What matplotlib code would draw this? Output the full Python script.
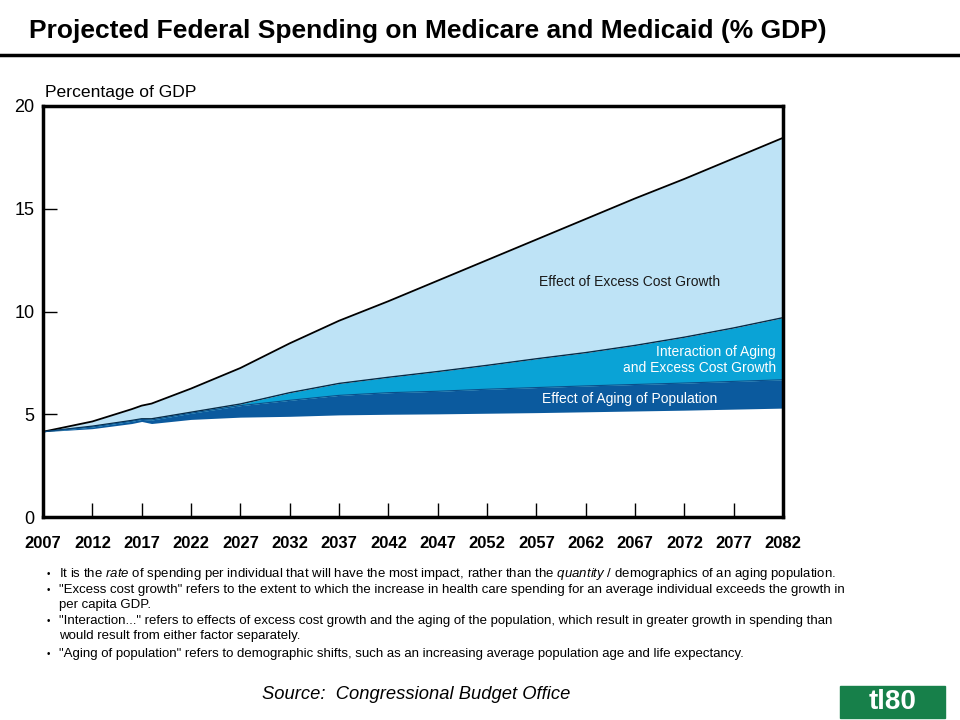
import matplotlib
matplotlib.use("Agg")
import matplotlib.pyplot as plt
from matplotlib.patches import Rectangle

years = [2007, 2012, 2016, 2017, 2018, 2022, 2027, 2032, 2037, 2042,
         2047, 2052, 2057, 2062, 2067, 2072, 2077, 2082]
# boundary levels (% of GDP)
base = [4.15, 4.30, 4.55, 4.65, 4.55, 4.75, 4.86, 4.90, 4.97, 5.00,
        5.02, 5.05, 5.08, 5.12, 5.16, 5.20, 5.25, 5.30]
aging = [4.15, 4.38, 4.66, 4.75, 4.72, 5.05, 5.42, 5.68, 5.92, 6.05,
         6.12, 6.22, 6.30, 6.38, 6.45, 6.52, 6.60, 6.68]
interaction = [4.15, 4.42, 4.70, 4.78, 4.78, 5.10, 5.50, 6.05, 6.50, 6.80,
               7.08, 7.38, 7.70, 8.00, 8.35, 8.75, 9.20, 9.70]
total = [4.15, 4.65, 5.25, 5.42, 5.52, 6.25, 7.25, 8.45, 9.55, 10.50,
         11.50, 12.50, 13.50, 14.50, 15.50, 16.45, 17.45, 18.45]

xticks = list(range(2007, 2083, 5))
yticks = [0, 5, 10, 15, 20]

notes = [
    ("\u2022", "It is the $\\it{rate}$ of spending per individual that will have the most impact, rather than the $\\it{quantity}$ / demographics of an aging population."),
    ("\u2022", "\"Excess cost growth\" refers to the extent to which the increase in health care spending for an average individual exceeds the growth in"),
    ("", "per capita GDP."),
    ("\u2022", "\"Interaction...\" refers to effects of excess cost growth and the aging of the population, which result in greater growth in spending than"),
    ("", "would result from either factor separately."),
    ("\u2022", "\"Aging of population\" refers to demographic shifts, such as an increasing average population age and life expectancy."),
]

plt.rcParams["font.family"] = ["Liberation Sans", "DejaVu Sans"]
plt.rcParams["mathtext.fontset"] = "custom"
plt.rcParams["mathtext.rm"] = "Liberation Sans"
plt.rcParams["mathtext.it"] = "Liberation Sans:italic"

fig = plt.figure(figsize=(9.6, 7.2), dpi=100)
fig.patch.set_facecolor("white")

fig.text(0.030, 0.957, "Projected Federal Spending on Medicare and Medicaid (% GDP)",
         fontsize=19, fontweight="bold", ha="left", va="center")
fig.add_artist(plt.Line2D([0, 1], [0.923, 0.923], color="black", lw=2.5))

ax = fig.add_axes([0.0448, 0.2819, 0.7708, 0.5709])
ax.fill_between(years, base, aging, color="#0b5a9e", lw=0)
ax.fill_between(years, aging, interaction, color="#0aa3d6", lw=0)
ax.fill_between(years, interaction, total, color="#bee3f6", lw=0)
ax.plot(years, total, color="black", lw=1.3)
ax.plot(years, interaction, color="#062a45", lw=1.0)
ax.plot(years, aging, color="#0a4f8a", lw=0.8)

ax.set_xlim(2007, 2082)
ax.set_ylim(0, 20)
ax.set_xticks(xticks)
ax.set_yticks(yticks)
ax.set_xticklabels([str(y) for y in xticks], fontsize=12, fontweight="bold")
ax.set_yticklabels([str(y) for y in yticks], fontsize=13)
ax.tick_params(axis="x", direction="in", length=10, width=1, pad=14)
ax.tick_params(axis="y", direction="in", length=10, width=1, pad=6)
for s in ax.spines.values():
    s.set_linewidth(2.5)

ax.text(0.003, 1.034, "Percentage of GDP", transform=ax.transAxes, fontsize=12.6,
        ha="left", va="center")

ax.text(2066.5, 11.44, "Effect of Excess Cost Growth",
        fontsize=10, ha="center", va="center", color="#1a1a1a")
ax.text(2081.3, 7.64, "Interaction of Aging\nand Excess Cost Growth",
        fontsize=10, ha="right", va="center", color="white", linespacing=1.15)
ax.text(2066.5, 5.74, "Effect of Aging of Population",
        fontsize=10, ha="center", va="center", color="white")

ys = [0.203, 0.180, 0.160, 0.137, 0.116, 0.092]
for (b, t), y in zip(notes, ys):
    if b:
        fig.text(0.049, y, b, fontsize=7, ha="left", va="center")
    fig.text(0.061, y, t, fontsize=9.55, ha="left", va="center")

fig.text(0.273, 0.036, "Source:  Congressional Budget Office", fontsize=13.2,
         style="italic", ha="left", va="center")

fig.add_artist(Rectangle((0.875, 0.003), 0.109, 0.044, transform=fig.transFigure,
                         color="#17804a"))
fig.text(0.9295, 0.025, "tl80", fontsize=20, fontweight="bold", color="white",
         ha="center", va="center")

fig.savefig("out.png", dpi=100)
